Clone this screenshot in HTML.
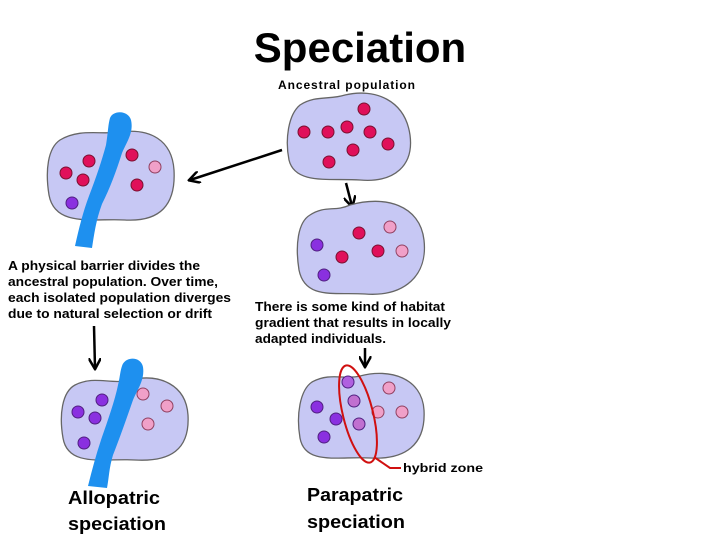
<!DOCTYPE html>
<html><head><style>
html,body{margin:0;padding:0;background:#fff}
svg{display:block}
text{font-family:"Liberation Sans",sans-serif;font-weight:bold;fill:#000}
</style></head><body>
<svg width="720" height="539" viewBox="0 0 720 539" xmlns="http://www.w3.org/2000/svg">
<defs>
<marker id="ah" viewBox="0 0 10 10" refX="8" refY="5" markerWidth="5" markerHeight="5" orient="auto"><path d="M0,0 L9,5 L0,10" fill="none" stroke="#000" stroke-width="2"/></marker>
</defs>
<text x="360" y="62" font-size="42" text-anchor="middle">Speciation</text>
<text x="278" y="89" font-size="12" textLength="137">Ancestral population</text>

<path d="M300,105 C315,95 330,100 345,95 C375,88 405,100 410,135 C414,165 395,183 360,180 C330,178 295,185 289,160 C285,140 288,115 300,105 Z" fill="#c7c8f4" stroke="#666" stroke-width="1.3"/>
<g stroke="#7a1030" stroke-width="1" fill="#e0105a">
<circle cx="364" cy="109" r="6"/><circle cx="304" cy="132" r="6"/><circle cx="328" cy="132" r="6"/><circle cx="347" cy="127" r="6"/><circle cx="370" cy="132" r="6"/><circle cx="388" cy="144" r="6"/><circle cx="353" cy="150" r="6"/><circle cx="329" cy="162" r="6"/>
</g>
<line x1="346" y1="183" x2="352" y2="206" stroke="#000" stroke-width="2.5" marker-end="url(#ah)"/>

<path d="M310,215 C325,205 335,212 350,205 C385,195 420,205 424,240 C428,275 405,297 365,294 C335,292 305,300 299,270 C295,245 298,222 310,215 Z" fill="#c7c8f4" stroke="#666" stroke-width="1.3"/>
<circle cx="317" cy="245" r="6" fill="#8a30e0" stroke="#502080"/>
<circle cx="359" cy="233" r="6" fill="#e0105a" stroke="#7a1030"/>
<circle cx="390" cy="227" r="6" fill="#f0a0c8" stroke="#904060"/>
<circle cx="342" cy="257" r="6" fill="#e0105a" stroke="#7a1030"/>
<circle cx="378" cy="251" r="6" fill="#e0105a" stroke="#7a1030"/>
<circle cx="402" cy="251" r="6" fill="#f0a0c8" stroke="#904060"/>
<circle cx="324" cy="275" r="6" fill="#8a30e0" stroke="#502080"/>

<line x1="282" y1="150" x2="190" y2="180" stroke="#000" stroke-width="2.5" marker-end="url(#ah)"/>

<path d="M60,140 C80,128 100,135 120,132 C150,128 172,140 174,170 C176,205 160,222 125,220 C95,218 55,228 49,195 C45,170 48,148 60,140 Z" fill="#c7c8f4" stroke="#666" stroke-width="1.3"/>
<path d="M110,118 C113,110 128,110 131,120 C134,133 126,143 122,153 C116,172 110,188 102,204 C96,220 94,235 92,248 L75,246 C79,228 83,212 89,196 C96,178 102,160 106,145 C108,133 108,125 110,118 Z" fill="#1e90ef"/>
<circle cx="89" cy="161" r="6" fill="#e0105a" stroke="#7a1030"/><circle cx="66" cy="173" r="6" fill="#e0105a" stroke="#7a1030"/><circle cx="83" cy="180" r="6" fill="#e0105a" stroke="#7a1030"/><circle cx="132" cy="155" r="6" fill="#e0105a" stroke="#7a1030"/><circle cx="155" cy="167" r="6" fill="#f0a0c8" stroke="#904060"/><circle cx="137" cy="185" r="6" fill="#e0105a" stroke="#7a1030"/><circle cx="72" cy="203" r="6" fill="#8a30e0" stroke="#502080"/>

<g font-size="13">
<text x="8" y="270" textLength="192" lengthAdjust="spacingAndGlyphs">A physical barrier divides the</text>
<text x="8" y="286" textLength="210" lengthAdjust="spacingAndGlyphs">ancestral population. Over time,</text>
<text x="8" y="302" textLength="223" lengthAdjust="spacingAndGlyphs">each isolated population diverges</text>
<text x="8" y="318" textLength="204" lengthAdjust="spacingAndGlyphs">due to natural selection or drift</text>
</g>
<line x1="94" y1="326" x2="95" y2="368" stroke="#000" stroke-width="2.5" marker-end="url(#ah)"/>

<path d="M75,385 C95,375 110,385 130,380 C160,373 186,385 188,415 C190,450 170,462 135,460 C105,458 68,468 63,438 C59,415 62,392 75,385 Z" fill="#c7c8f4" stroke="#666" stroke-width="1.3"/>
<path d="M122,366 C125,356 141,356 143,367 C145,380 137,390 133,400 C126,420 119,440 113,455 C109,468 109,478 107,488 L88,486 C92,470 96,455 101,440 C108,420 115,400 118,385 C120,377 120,372 122,366 Z" fill="#1e90ef"/>
<circle cx="102" cy="400" r="6" fill="#8a30e0" stroke="#502080"/><circle cx="78" cy="412" r="6" fill="#8a30e0" stroke="#502080"/><circle cx="95" cy="418" r="6" fill="#8a30e0" stroke="#502080"/><circle cx="84" cy="443" r="6" fill="#8a30e0" stroke="#502080"/>
<circle cx="143" cy="394" r="6" fill="#f0a0c8" stroke="#904060"/><circle cx="167" cy="406" r="6" fill="#f0a0c8" stroke="#904060"/><circle cx="148" cy="424" r="6" fill="#f0a0c8" stroke="#904060"/>
<text x="68" y="504" font-size="18" textLength="92" lengthAdjust="spacingAndGlyphs">Allopatric</text>
<text x="68" y="530" font-size="18" textLength="98" lengthAdjust="spacingAndGlyphs">speciation</text>

<g font-size="13">
<text x="255" y="311" textLength="190" lengthAdjust="spacingAndGlyphs">There is some kind of habitat</text>
<text x="255" y="327" textLength="196" lengthAdjust="spacingAndGlyphs">gradient that results in locally</text>
<text x="255" y="343" textLength="131" lengthAdjust="spacingAndGlyphs">adapted individuals.</text>
</g>
<line x1="365" y1="348" x2="365" y2="366" stroke="#000" stroke-width="2.5" marker-end="url(#ah)"/>

<path d="M312,382 C330,372 345,380 360,376 C390,368 422,378 424,410 C426,445 405,460 370,458 C340,456 305,466 300,438 C296,415 300,390 312,382 Z" fill="#c7c8f4" stroke="#666" stroke-width="1.3"/>
<circle cx="317" cy="407" r="6" fill="#8a30e0" stroke="#502080"/><circle cx="336" cy="419" r="6" fill="#8a30e0" stroke="#502080"/><circle cx="324" cy="437" r="6" fill="#8a30e0" stroke="#502080"/>
<circle cx="348" cy="382" r="6" fill="#b060e0" stroke="#502080"/><circle cx="354" cy="401" r="6" fill="#c070d0" stroke="#502080"/><circle cx="359" cy="424" r="6" fill="#c070d0" stroke="#502080"/>
<circle cx="389" cy="388" r="6" fill="#f0a0c8" stroke="#904060"/><circle cx="378" cy="412" r="6" fill="#f0a0c8" stroke="#904060"/><circle cx="402" cy="412" r="6" fill="#f0a0c8" stroke="#904060"/>
<ellipse cx="358" cy="414" rx="15" ry="50" transform="rotate(-14 358 414)" fill="none" stroke="#d01010" stroke-width="2"/>
<polyline points="374,457 390,468 401,468" fill="none" stroke="#d01010" stroke-width="2"/>
<text x="403" y="472" font-size="12" textLength="80" lengthAdjust="spacingAndGlyphs">hybrid zone</text>
<text x="307" y="501" font-size="18" textLength="96" lengthAdjust="spacingAndGlyphs">Parapatric</text>
<text x="307" y="528" font-size="18" textLength="98" lengthAdjust="spacingAndGlyphs">speciation</text>
</svg>
</body></html>
